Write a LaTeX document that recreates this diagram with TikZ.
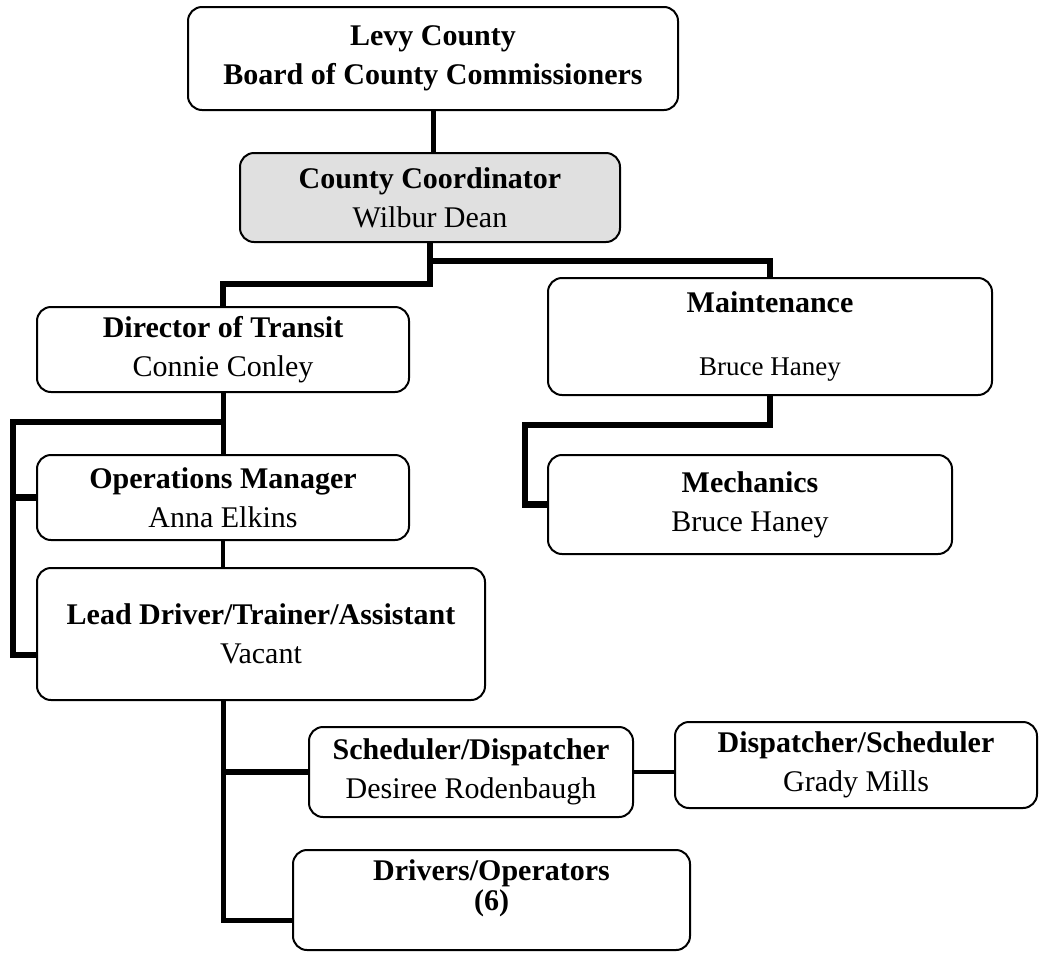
\documentclass[tikz,border=0pt]{standalone}
\usepackage{fontspec}
\setmainfont{Liberation Serif}
\usetikzlibrary{calc}
\tikzset{
x=1pt, y=-1pt,
box/.style={draw,rounded corners=14pt,line width=2pt,align=center,inner sep=0pt,font=\fontsize{30}{39}\selectfont},
thin link/.style={line width=4pt},
link/.style={line width=5pt},
heavy link/.style={line width=6.5pt}}

\begin{document}
\begin{tikzpicture}

\useasboundingbox (0,0) rectangle (1040,954);

\node[box,minimum width=490pt,minimum height=103pt] (levy) at (433,58.5) {\textbf{Levy County}\\\textbf{Board of County Commissioners}};
\node[box,fill=black!12,minimum width=380pt,minimum height=89pt] (coord) at (430,197.5) {\textbf{County Coordinator}\\Wilbur Dean};
\node[box,minimum width=372pt,minimum height=85pt] (dir) at (223,349.5) {\textbf{Director of Transit}\\Connie Conley};
\node[box,minimum width=444pt,minimum height=117pt] (maint) at (770,336.5) {\textbf{Maintenance}\\[24pt]{\fontsize{27}{33}\selectfont Bruce Haney}};
\node[box,minimum width=372pt,minimum height=85pt] (ops) at (223,497.5) {\textbf{Operations Manager}\\Anna Elkins};
\node[box,minimum width=404pt,minimum height=99pt] (mech) at (750,504.5) {\textbf{Mechanics}\\Bruce Haney};
\node[box,minimum width=448pt,minimum height=132pt] (lead) at (261,634) {\textbf{Lead Driver/Trainer/Assistant}\\Vacant};
\node[box,minimum width=324pt,minimum height=90pt] (sched) at (471,772) {\textbf{Scheduler/Dispatcher}\\Desiree Rodenbaugh};
\node[box,minimum width=362pt,minimum height=86pt] (disp) at (856,765) {\textbf{Dispatcher/Scheduler}\\Grady Mills};
\node[box,minimum width=397pt,minimum height=100pt] (drv) at (491.5,900) {};
\node[align=center,font=\fontsize{30}{30}\selectfont] (drvtext) at (491.5,888) {\textbf{Drivers/Operators}\\\textbf{(6)}};

\coordinate (j1) at (430,261);
\coordinate (j2) at (430,284);
\coordinate (b1) at (13,422);
\coordinate (b2) at (13,655);
\coordinate (m1) at (525,425);
\coordinate (d1) at (223,920);

\draw[link] (levy.south) -- (levy.south |- coord.north);
\draw[heavy link] (coord.south) -- (j2) -| (dir.north);
\draw[heavy link] (j1) -| (maint.north);
\draw[link] (dir.south) -- (ops.north);
\draw[heavy link] (dir.south |- b1) -- (b1) -- (b2) -- (b2 -| lead.west);
\draw[heavy link] (b1 |- ops.west) -- (ops.west);
\draw[thin link] (ops.south) -- (ops.south |- lead.north);
\draw[heavy link] (maint.south) |- (m1) |- (mech.west);
\draw[link] (ops.south |- lead.south) -- (d1) -- (d1 -| drv.west);
\draw[heavy link] (ops.south |- sched.west) -- (sched.west);
\draw[thin link] (sched.east) -- (sched.east -| disp.west);

\end{tikzpicture}
\end{document}
